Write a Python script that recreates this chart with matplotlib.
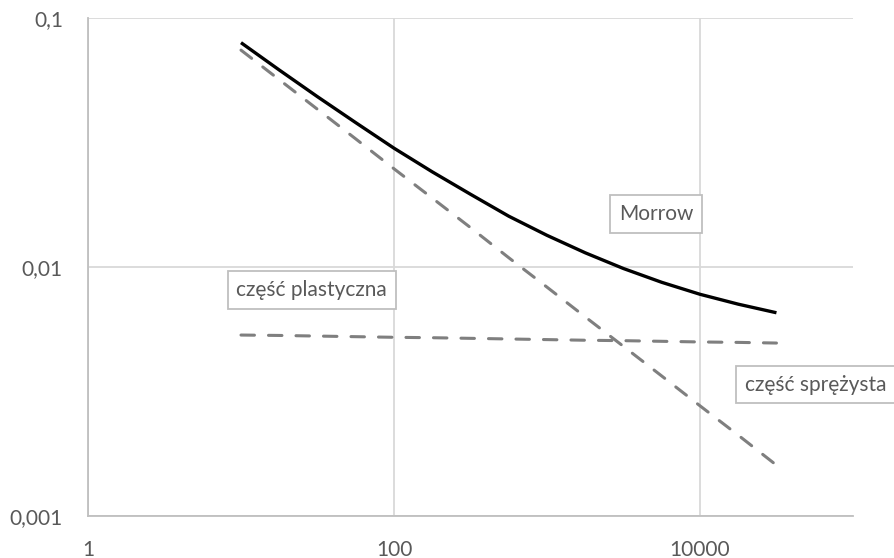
import numpy as np
import matplotlib
matplotlib.use('Agg')
import matplotlib.pyplot as plt
from matplotlib.ticker import FixedLocator, FixedFormatter, NullLocator

plt.rcParams['font.family'] = ['Lato', 'DejaVu Sans']

# liczba cykli i amplitudy odkształcenia
N = [10, 17.8, 31.6, 56.2, 100, 178, 316, 562, 1000, 1780, 3160, 5620, 10000, 17800, 31600]
eps_stroma = [0.0743, 0.0565, 0.0430, 0.0327, 0.0248, 0.0189, 0.0144, 0.0109, 0.0083,
              0.0063, 0.0048, 0.00365, 0.00277, 0.00211, 0.00160]
eps_plaska = [0.00533, 0.00531, 0.00528, 0.00525, 0.00522, 0.00520, 0.00517, 0.00514,
              0.00511, 0.00508, 0.00506, 0.00503, 0.00500, 0.00498, 0.00495]
eps_morrow = [0.0796, 0.0618, 0.0483, 0.0380, 0.0300, 0.0241, 0.0196, 0.0160, 0.0134,
              0.0114, 0.00986, 0.00868, 0.00777, 0.00709, 0.00655]

x_ticks = [1, 100, 10000]
x_labels = ['1', '100', '10000']
y_ticks = [0.001, 0.01, 0.1]
y_labels = ['0,001', '0,01', '0,1']

fig = plt.figure(figsize=(8.94, 5.58), dpi=100)
ax = fig.add_axes([88/894, 1-516/558, (853-88)/894, (516-18)/558])

ax.set_xscale('log')
ax.set_yscale('log')
ax.set_xlim(1, 1e5)
ax.set_ylim(0.001, 0.1)

szary = '#7f7f7f'
ax.plot(N, eps_stroma, color=szary, lw=2.2, linestyle=(0, (4.4, 4.6)),
        dash_capstyle='round', zorder=3)
ax.plot(N, eps_plaska, color=szary, lw=2.2, linestyle=(0, (4.4, 4.6)),
        dash_capstyle='round', zorder=3)
ax.plot(N, eps_morrow, color='black', lw=2.4, solid_capstyle='butt', zorder=4)

ax.xaxis.set_major_locator(FixedLocator(x_ticks))
ax.xaxis.set_major_formatter(FixedFormatter(x_labels))
ax.xaxis.set_minor_locator(NullLocator())
ax.yaxis.set_major_locator(FixedLocator(y_ticks))
ax.yaxis.set_major_formatter(FixedFormatter(y_labels))
ax.yaxis.set_minor_locator(NullLocator())
ax.tick_params(length=0, labelsize=15, labelcolor='#595959')
ax.tick_params(axis='x', pad=17)
ax.tick_params(axis='y', pad=18)

ax.grid(True, color='#d9d9d9', lw=1.3)
ax.set_axisbelow(True)
for s in ['top', 'right']:
    ax.spines[s].set_visible(False)
for s in ['left', 'bottom']:
    ax.spines[s].set_color('#bfbfbf')
    ax.spines[s].set_linewidth(1.3)

ramka = dict(boxstyle='square,pad=0.42', fc='white', ec='#bfbfbf', lw=1.3)
ax.text(5150, 0.0163, 'Morrow', ha='center', va='center', fontsize=15,
        color='#595959', bbox=ramka, zorder=5)
ax.text(29, 0.0081, 'część plastyczna', ha='center', va='center', fontsize=15,
        color='#595959', bbox=ramka, zorder=5)
ax.text(19700, 0.00337, 'część sprężysta', ha='left', va='center', fontsize=15,
        color='#595959', bbox=ramka, zorder=5, clip_on=False)

fig.savefig('out.png', dpi=100)
